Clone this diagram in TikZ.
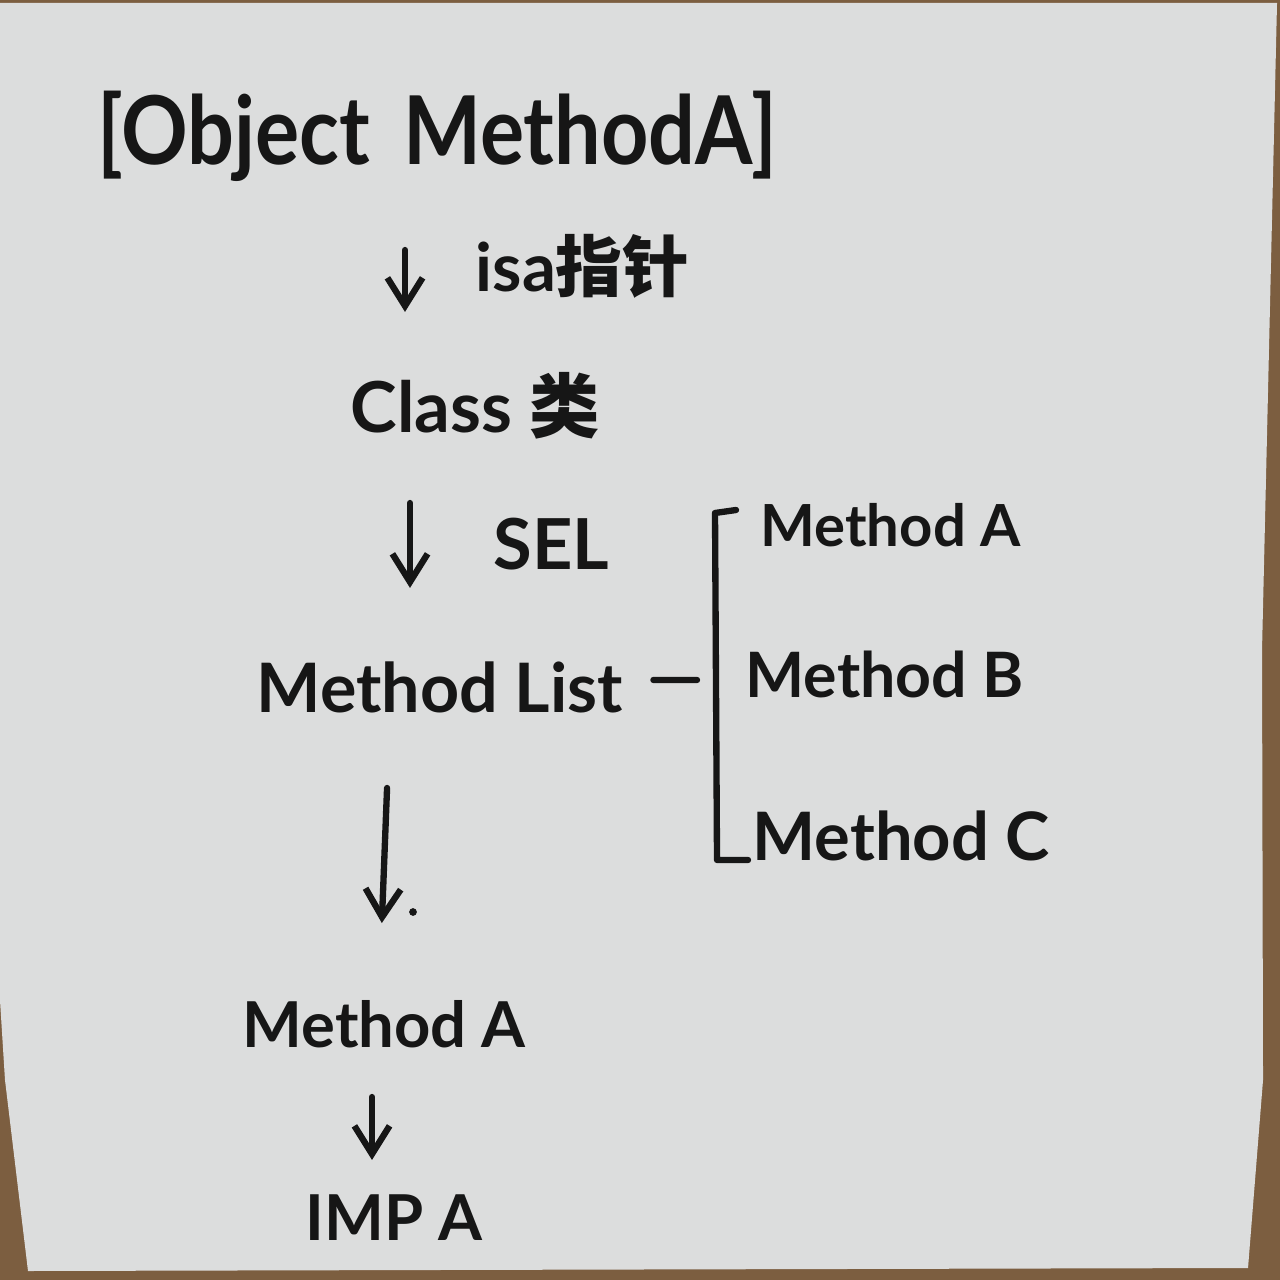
\documentclass[tikz,border=0pt]{standalone}
\usepackage{fontspec}
\setmainfont{Lato}
\newfontfamily\cjk{Noto Sans CJK SC}
\usetikzlibrary{arrows.meta}
\definecolor{paper}{RGB}{220,221,221}
\definecolor{board}{RGB}{124,94,64}
\definecolor{ink}{RGB}{22,22,22}
\tikzset{
  hand/.style={inner sep=0pt, anchor=base west, text=ink, font=\bfseries\fontsize{#1}{#1}\selectfont},
  hand/.default=20,
  flow line/.style={line width=1.8pt, ink, line cap=round, line join=round, -{Straight Barb[length=8pt, width=10pt]}},
  ink line/.style={line width=1.8pt, ink, line cap=round, line join=round},
}

\begin{document}
\begin{tikzpicture}[x=0.01cm, y=-0.01cm]
  \useasboundingbox (0,0) rectangle (1280,1280);
  % board and sticky note
  \fill[board] (0,0) rectangle (1280,1280);
  \fill[paper] (0,3) -- (1277,3) -- (1262,650) -- (1263,1080) -- (1248,1268) -- (28,1271) -- (5,1080) -- (0,1000) -- cycle;
  % message chain
  \node[hand=27, xscale=0.87] (call) at (97,165) {[Object\hspace{0.4em}MethodA]};
  \node[hand=19] (isa) at (475,292) {isa{\cjk 指针}};
  \node[hand=20] (cls) at (350,433) {Class {\cjk 类}};
  \node[hand=20] (sel) at (493,570) {SEL};
  \node[hand=19.4] (mlist) at (256,712) {Method List};
  \node[hand=18] (meth) at (242,1047) {Method A};
  \node[hand=18] (imp) at (305,1240) {IMP A};
  % method list entries
  \node[hand=16.5] (ma) at (760,547) {Method A};
  \node[hand=17.8] (mb) at (745,697) {Method B};
  \node[hand=19] (mc) at (752,860) {Method C};
  % arrow columns
  \coordinate (col1) at (405,0);
  \coordinate (col2) at (410,0);
  \coordinate (col3) at (390,0);
  \coordinate (col4) at (377,0);
  \coordinate (col5) at (372,0);
  \draw[flow line, shorten <=0.85cm, shorten >=1.21cm] (call.base -| col1) -- (cls.base -| col1);
  \draw[flow line, shorten <=0.70cm, shorten >=1.24cm] (cls.base -| col2) -- (mlist.base -| col2);
  \draw[flow line, shorten <=0.76cm, shorten >=1.24cm] (mlist.base -| col3) -- (meth.base -| col4);
  \draw[flow line, shorten <=0.50cm, shorten >=0.80cm] (meth.base -| col5) -- (imp.base -| col5);
  \fill[ink] (413,912) circle (1.1pt);
  % bracket
  \coordinate (brk) at (717,680);
  \draw[ink line, shorten >=0.2cm] ([xshift=0.3cm, yshift=0.32cm]mlist.base east) -- (brk);
  \draw[ink line] (736,510) -- (715,513) -- (717,860) -- (748,860);
\end{tikzpicture}
\end{document}
